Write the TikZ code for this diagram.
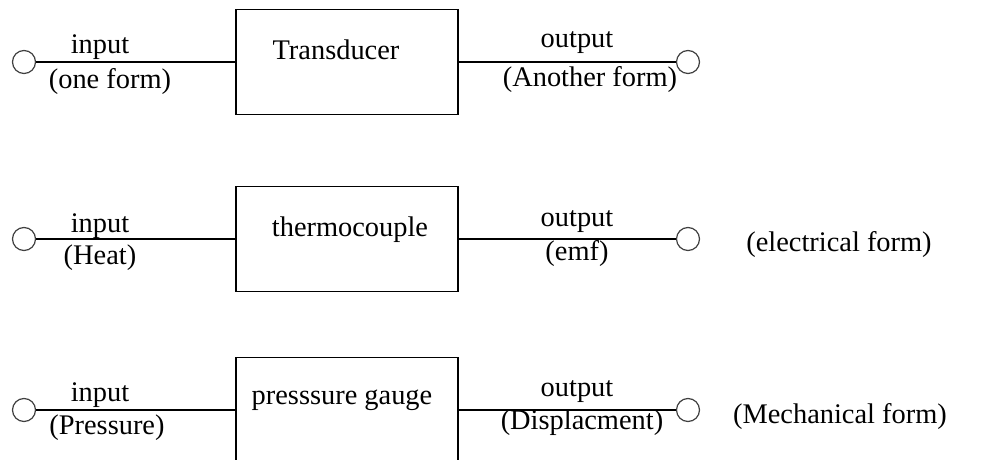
\documentclass[tikz,border=0pt]{standalone}
\usepackage{fontspec}
\setmainfont{Liberation Serif}

\begin{document}
\begin{tikzpicture}[x=0.5pt,y=-0.5pt]

\tikzset{port/.style = {shape=circle,draw=black!75,line width=0.6pt,inner sep=0pt,minimum size=11.5pt}}
\tikzset{block/.style = {shape=rectangle,draw,line width=0.7pt,minimum width=111pt,minimum height=52.5pt}}
\tikzset{wire/.style = {line width=0.7pt}}
\tikzset{txt/.style = {font=\fontsize{14.2}{17}\selectfont,inner sep=0pt}}

\useasboundingbox (0,0) rectangle (990,460);

%blocks
\node[block] (b1) at (347,62) {};
\node[block] (b2) at (347,239) {};
\node[block] (b3) at (347,410) {};
%ports
\node[port] (i1) at (24,62) {};
\node[port] (o1) at (688,62) {};
\node[port] (i2) at (24,239) {};
\node[port] (o2) at (688,239) {};
\node[port] (i3) at (24,410) {};
\node[port] (o3) at (688,410) {};
%wires
\draw[wire] (i1) -- (b1);
\draw[wire] (b1) -- (o1);
\draw[wire] (i2) -- (b2);
\draw[wire] (b2) -- (o2);
\draw[wire] (i3) -- (b3);
\draw[wire] (b3) -- (o3);
%labels
\node[txt] (t1) at (336,50) {Transducer};
\node[txt] (in1) at (100,47) {input};
\node[txt] (inf1) at (110,82) {(one form)};
\node[txt] (out1) at (577,43) {output};
\node[txt] (outf1) at (590,80) {(Another form)};

\node[txt] (t2) at (350,230) {thermocouple};
\node[txt] (in2) at (100,226) {input};
\node[txt] (inf2) at (100,258) {(Heat)};
\node[txt] (out2) at (577,222) {output};
\node[txt] (outf2) at (577,254) {(emf)};
\node[txt] (form2) at (839,245) {(electrical form)};

\node[txt] (t3) at (342,400) {presssure gauge};
\node[txt] (in3) at (100,395) {input};
\node[txt] (inf3) at (107,428) {(Pressure)};
\node[txt] (out3) at (577,392) {output};
\node[txt] (outf3) at (582,423) {(Displacment)};
\node[txt] (form3) at (840,417) {(Mechanical form)};

\end{tikzpicture}
\end{document}
